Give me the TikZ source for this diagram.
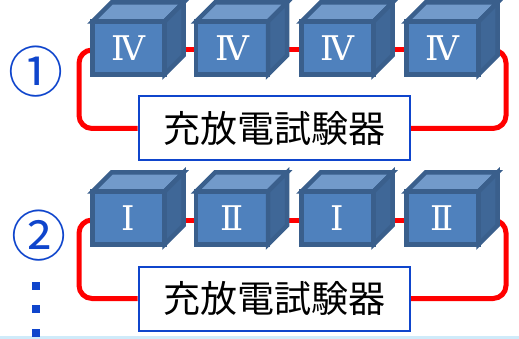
\documentclass[tikz,border=0pt]{standalone}
\usepackage{fontspec}
\usepackage{tikz}
\usepackage{xcolor}
\usetikzlibrary{calc,backgrounds}
\newfontfamily\cjkfont{Noto Sans CJK JP}
\newfontfamily\numfont{DejaVu Serif}
\definecolor{cellfill}{HTML}{4F81BD}
\definecolor{celledge}{HTML}{3A5F8C}
\definecolor{celltopfill}{HTML}{729ACA}
\definecolor{cellsidefill}{HTML}{3F6797}
\definecolor{markblue}{HTML}{0F45CC}
\definecolor{stripblue}{HTML}{CFEBFA}
\tikzset{
  cellface/.style={draw=celledge, fill=cellfill, line width=4.5pt, minimum width=72pt, minimum height=53pt,
    inner sep=0pt, outer sep=0pt, text=white, font=\numfont\fontsize{34}{34}\selectfont},
  celltop/.style={draw=celledge, fill=celltopfill, line width=4.5pt, line join=miter},
  cellside/.style={draw=celledge, fill=cellsidefill, line width=4.5pt, line join=miter},
  wire/.style={draw=red, line width=5pt},
  testerbox/.style={draw=markblue, fill=white, line width=2pt, minimum width=271pt, minimum height=64pt,
    inner sep=0pt, font=\cjkfont\fontsize{37}{37}\selectfont},
  casemark/.style={text=markblue, inner sep=0pt, font=\cjkfont\fontsize{55}{55}\selectfont},
  dotmark/.style={fill=markblue, minimum size=8pt, inner sep=0pt},
}
\newcommand{\cellblock}[4]{
  \node[cellface] (#1) at (#2,#3) {#4};
  \draw[celltop] (#1.north west) -- ++(19,-19) -- ++(72,0) -- (#1.north east) -- cycle;
  \draw[cellside] (#1.north east) -- ++(19,-19) -- ++(0,53) -- (#1.south east) -- cycle;
}
\begin{document}
\begin{tikzpicture}[x=1pt,y=-1pt]
  \useasboundingbox (0,0) rectangle (519,339);
  \fill[stripblue] (0,336) rectangle (519,339);

  % first row
  \foreach \name/\x in {a/128.5,b/232,c/337.5,d/442.5}
    \cellblock{\name1}{\x}{48}{Ⅳ}
  \node[testerbox] (tester1) at (274,128.5) {充放電試験器};
  \node[casemark] (mark1) at (36,72) {①};

  % second row
  \cellblock{a2}{128.5}{218}{Ⅰ}
  \cellblock{b2}{232}{218}{Ⅱ}
  \cellblock{c2}{337.5}{218}{Ⅰ}
  \cellblock{d2}{442.5}{218}{Ⅱ}
  \node[testerbox] (tester2) at (274,298.5) {充放電試験器};
  \node[casemark] (mark2) at (39,236) {②};

  \node[dotmark] (dot1) at (35.5,286) {};
  \node[dotmark] (dot2) at (35.5,309) {};
  \node[dotmark] (dot3) at (35.5,333) {};

  \coordinate (left) at (79,0);
  \coordinate (right) at (506,0);
  \begin{scope}[on background layer]
    \foreach \row in {1,2} {
      \draw[wire] ($(a\row.east)+(0,2)$) -- ($(b\row.west)+(0,2)$);
      \draw[wire] ($(b\row.east)+(0,2)$) -- ($(c\row.west)+(0,2)$);
      \draw[wire] ($(c\row.east)+(0,2)$) -- ($(d\row.west)+(0,2)$);
      \draw[wire, rounded corners=13pt] ($(a\row.west)+(0,2)$) -| (left |- tester\row.west) -- (tester\row.west);
      \draw[wire, rounded corners=13pt] ($(d\row.east)+(0,2)$) -| (right |- tester\row.east) -- (tester\row.east);
    }
  \end{scope}
\end{tikzpicture}
\end{document}
